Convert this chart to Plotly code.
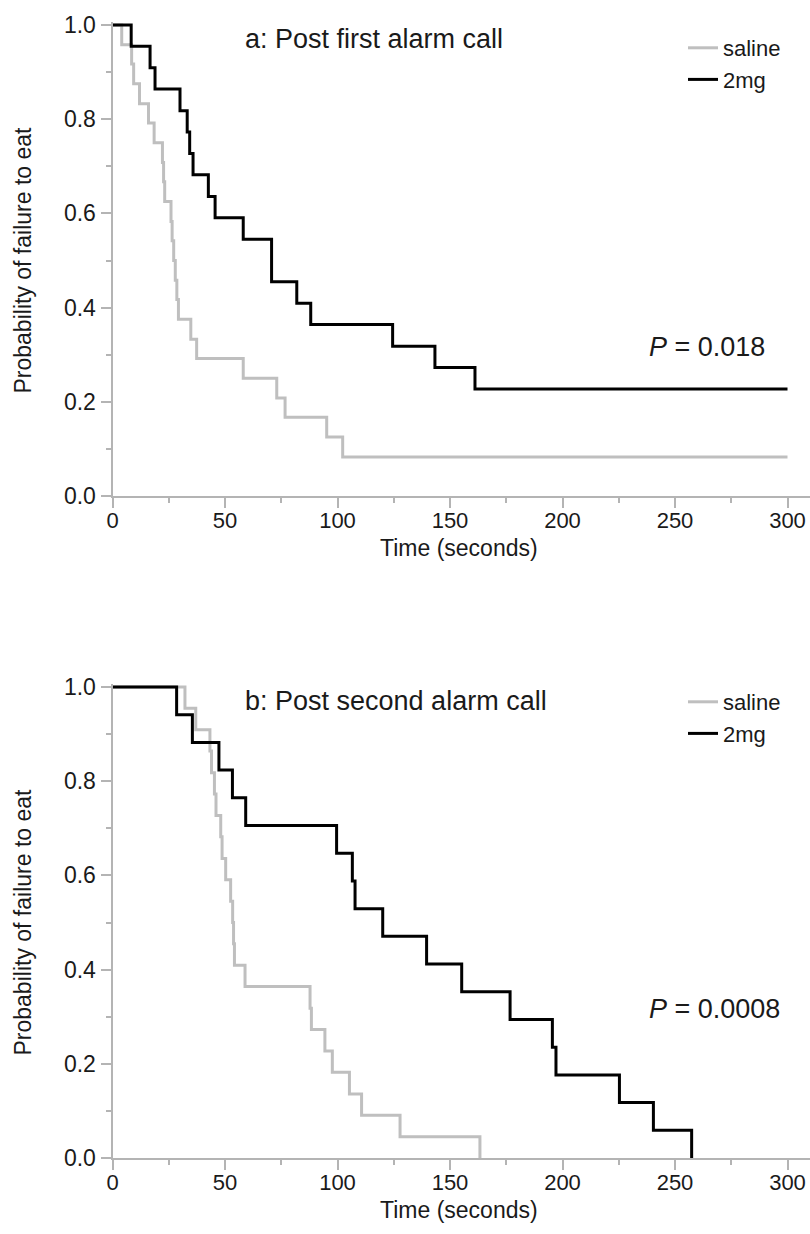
import plotly.graph_objects as go

# Kaplan-Meier step data: time (s) at which each step occurs and the
# probability of failure to eat after that step.
a_saline_t = [0, 4.1, 8.5, 9.4, 12.0, 16.0, 18.5, 22.2, 22.7, 23.2, 26.0, 26.5,
              27.2, 27.9, 28.6, 29.3, 34.8, 37.4, 58.1, 73.0, 76.7, 95.2, 102.3, 300]
a_saline_p = [1.0, 0.958, 0.917, 0.875, 0.833, 0.792, 0.750, 0.708, 0.667, 0.625,
              0.583, 0.542, 0.500, 0.458, 0.417, 0.375, 0.333, 0.292, 0.250, 0.208,
              0.167, 0.125, 0.083, 0.083]

a_2mg_t = [0, 8.3, 16.7, 18.9, 30.0, 33.2, 34.3, 35.8, 42.6, 45.6, 58.1, 70.7,
           81.9, 88.1, 124.5, 143.3, 161.1, 300]
a_2mg_p = [1.0, 0.955, 0.909, 0.864, 0.818, 0.773, 0.727, 0.682, 0.636, 0.591,
           0.545, 0.455, 0.409, 0.364, 0.318, 0.273, 0.227, 0.227]

b_saline_t = [0, 32.2, 37.0, 43.3, 44.0, 45.3, 46.0, 48.1, 48.7, 50.3, 52.5, 53.4,
              53.8, 54.2, 58.9, 87.8, 88.4, 94.4, 97.7, 105.3, 110.7, 127.8, 163.3]
b_saline_p = [1.0, 0.955, 0.909, 0.864, 0.818, 0.773, 0.727, 0.682, 0.636, 0.591,
              0.545, 0.500, 0.455, 0.409, 0.364, 0.318, 0.273, 0.227, 0.182, 0.136,
              0.091, 0.045, 0.0]

b_2mg_t = [0, 28.5, 35.5, 47.3, 53.3, 59.2, 99.6, 106.6, 107.8, 120.1, 139.6,
           155.2, 176.7, 195.5, 197.1, 225.3, 240.4, 257.4]
b_2mg_p = [1.0, 0.941, 0.882, 0.824, 0.765, 0.706, 0.647, 0.588, 0.529, 0.471,
           0.412, 0.353, 0.294, 0.235, 0.176, 0.118, 0.059, 0.0]

panel_titles = ["a: Post first alarm call", "b: Post second alarm call"]
p_values = ["0.018", "0.0008"]
group_names = ["saline", "2mg"]
x_ticks = [0, 50, 100, 150, 200, 250, 300]
x_minor = [25, 75, 125, 175, 225, 275]
y_ticks = [0, 0.2, 0.4, 0.6, 0.8, 1.0]
y_minor = [0.1, 0.3, 0.5, 0.7, 0.9]

W, H = 810, 1234
FONT = "Liberation Sans, Arial, sans-serif"
TEXT = "#1a1a1a"
AXIS_GREY = "#b4b4b4"
SALINE_GREY = "#bfbfbf"

# pixel geometry of each panel: (y of p=1.0, y of p=0.0)
X_LEFT = 112.5
X_MAX = 310.0
Y_TOP_PAD = 0.006
panels_px = [(25.0, 496.0), (687.0, 1158.0)]
legend_top_px = [27.0, 681.0]

fig = go.Figure()

series = [
    (a_saline_t, a_saline_p, a_2mg_t, a_2mg_p),
    (b_saline_t, b_saline_p, b_2mg_t, b_2mg_p),
]

for i, (st, sp, dt, dp) in enumerate(series):
    xa = "x" if i == 0 else "x2"
    ya = "y" if i == 0 else "y2"
    leg = "legend" if i == 0 else "legend2"
    fig.add_trace(go.Scatter(x=st, y=sp, mode="lines", line_shape="hv",
                             line=dict(color=SALINE_GREY, width=3),
                             name=group_names[0], xaxis=xa, yaxis=ya,
                             legend=leg))
    fig.add_trace(go.Scatter(x=dt, y=dp, mode="lines", line_shape="hv",
                             line=dict(color="black", width=3),
                             name=group_names[1], xaxis=xa, yaxis=ya,
                             legend=leg))

def ydomain(top_px, bottom_px):
    span = bottom_px - top_px
    top_ext = top_px - span * Y_TOP_PAD
    return [1 - bottom_px / H, 1 - top_ext / H]

axis_common = dict(
    showline=True, linecolor=AXIS_GREY, linewidth=2,
    ticks="outside", ticklen=10, tickwidth=2, tickcolor=AXIS_GREY,
    showgrid=False, zeroline=False, automargin=False,
    tickfont=dict(family=FONT, size=23, color=TEXT),
)

xdom = [X_LEFT / W, 1.0]
layout = dict(
    width=W, height=H,
    margin=dict(l=0, r=0, t=0, b=0, autoexpand=False),
    paper_bgcolor="white", plot_bgcolor="white",
    showlegend=True,
)
for i, (top_px, bottom_px) in enumerate(panels_px):
    sfx = "" if i == 0 else "2"
    layout["xaxis" + sfx] = dict(
        axis_common, domain=xdom, range=[0, X_MAX], anchor="y" + sfx,
        tickvals=x_ticks, ticklabelstandoff=-6,
        tickfont=dict(family=FONT, size=22, color=TEXT),
        minor=dict(tickvals=x_minor, ticklen=5, tickwidth=2,
                   tickcolor=AXIS_GREY, ticks="outside"),
    )
    layout["yaxis" + sfx] = dict(
        axis_common, domain=ydomain(top_px, bottom_px),
        range=[0, 1.0 + Y_TOP_PAD], anchor="x" + sfx,
        tickvals=y_ticks, tickformat=".1f",
        minor=dict(tickvals=y_minor, ticklen=5, tickwidth=2,
                   tickcolor=AXIS_GREY, ticks="outside"),
    )

legend_style = dict(font=dict(family=FONT, size=22, color=TEXT),
                    bgcolor="rgba(0,0,0,0)", borderwidth=0,
                    xanchor="left", yanchor="top", traceorder="normal",
                    itemwidth=30)
layout["legend"] = dict(legend_style, x=683 / W, y=1 - legend_top_px[0] / H)
layout["legend2"] = dict(legend_style, x=683 / W, y=1 - legend_top_px[1] / H)

annotations = []
for i, (top_px, bottom_px) in enumerate(panels_px):
    mid = (top_px + bottom_px) / 2
    annotations.append(dict(text=panel_titles[i], x=243 / W, y=1 - (top_px + 14) / H,
                            xref="paper", yref="paper", xanchor="left", yanchor="middle",
                            showarrow=False,
                            font=dict(family=FONT, size=27, color=TEXT)))
    annotations.append(dict(text=f"<i>P</i> = {p_values[i]}", x=647 / W,
                            y=1 - (top_px + 322) / H,
                            xref="paper", yref="paper", xanchor="left", yanchor="middle",
                            showarrow=False,
                            font=dict(family=FONT, size=27, color=TEXT)))
    annotations.append(dict(text="Probability of failure to eat", x=22 / W,
                            y=1 - mid / H, textangle=-90,
                            xref="paper", yref="paper", xanchor="center", yanchor="middle",
                            showarrow=False,
                            font=dict(family=FONT, size=23, color=TEXT)))
    annotations.append(dict(text="Time (seconds)", x=459 / W, y=1 - (bottom_px + 52) / H,
                            xref="paper", yref="paper", xanchor="center", yanchor="middle",
                            showarrow=False,
                            font=dict(family=FONT, size=23, color=TEXT)))
layout["annotations"] = annotations

fig.update_layout(**layout)
fig.write_html("out.html")
